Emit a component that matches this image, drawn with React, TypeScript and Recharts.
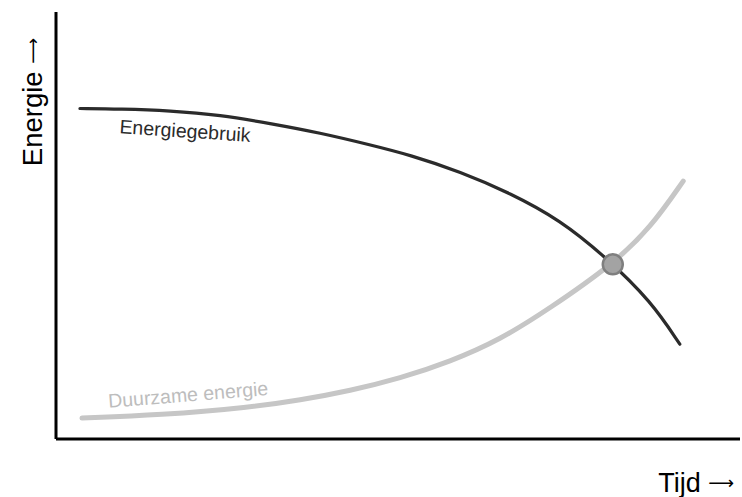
import {
  ComposedChart,
  Line,
  Scatter,
  XAxis,
  YAxis,
  Label,
  ReferenceDot,
} from 'recharts'

// tijd (0-100) en energie (0-100)
const gebruikTijd = [3.5, 9.4, 16.7, 24, 31.3, 38.6, 45.9, 51.8, 59.1, 66.4, 73.7, 80.3, 87, 91.2]
const gebruikEnergie = [77.4, 77.3, 76.9, 75.9, 73.9, 71.7, 68.9, 66.5, 62.6, 57.6, 51.3, 42.7, 32.3, 22.2]

const duurzaamTijd = [3.8, 15.2, 28.4, 35.7, 43, 50.3, 57.6, 64.9, 72.2, 81.4, 87, 91.7]
const duurzaamEnergie = [4.9, 5.6, 7.4, 9.1, 11.3, 14.2, 18.1, 23.2, 30.6, 40.9, 49.6, 60.4]

const snijpunt = [{ t: 81.4, e: 40.9 }]

const gebruikData = gebruikTijd.map((t, i) => ({ t, e: gebruikEnergie[i] }))
const duurzaamData = duurzaamTijd.map((t, i) => ({ t, e: duurzaamEnergie[i] }))

const font = '"Liberation Sans", Arial, sans-serif'
const narrow = '"Liberation Sans Narrow", "Liberation Sans", Arial, sans-serif'
const pijlFont = '"DejaVu Sans", sans-serif'

function SchuineTekst(tekst: string, hoek: number, kleur: string) {
  return (p: any) => (
    <text
      x={p.cx}
      y={p.cy}
      textAnchor="middle"
      fontFamily={font}
      fontSize={19.5}
      fill={kleur}
      transform={`rotate(${hoek}, ${p.cx}, ${p.cy})`}
    >
      {tekst}
    </text>
  )
}

export default function App() {
  return (
    <div style={{ position: 'absolute', left: 0, top: 0, background: '#fff' }}>
      <ComposedChart
        width={742}
        height={497}
        margin={{ top: 12, right: 2, bottom: 57, left: 55 }}
      >
        <XAxis
          type="number"
          dataKey="t"
          domain={[0, 100]}
          height={1}
          tick={false}
          tickLine={false}
          axisLine={{ stroke: '#000', strokeWidth: 3 }}
          allowDataOverflow
        >
          <Label
            content={({ viewBox }: any) => (
              <text
                x={viewBox.x + viewBox.width - 6}
                y={viewBox.y + 53}
                textAnchor="end"
                fontFamily={narrow}
                fontSize={27}
                fill="#000"
              >
                Tijd <tspan fontFamily={pijlFont} fontSize={18} dy={-3}>⟶</tspan>
              </text>
            )}
          />
        </XAxis>
        <YAxis
          type="number"
          dataKey="e"
          domain={[0, 100]}
          width={1}
          tick={false}
          tickLine={false}
          axisLine={{ stroke: '#000', strokeWidth: 3 }}
          allowDataOverflow
        >
          <Label
            content={({ viewBox }: any) => {
              const x = viewBox.x + viewBox.width - 14.5
              const y = viewBox.y + 90
              return (
                <text
                  x={x}
                  y={y}
                  textAnchor="middle"
                  fontFamily={narrow}
                  fontSize={27.5}
                  fill="#000"
                  transform={`rotate(-90, ${x}, ${y})`}
                >
                  Energie <tspan fontFamily={pijlFont} fontSize={18} dy={-3}>⟶</tspan>
                </text>
              )
            }}
          />
        </YAxis>
        <Line
          data={duurzaamData}
          dataKey="e"
          type="basis"
          stroke="#c6c6c6"
          strokeWidth={5}
          strokeLinecap="round"
          dot={false}
          isAnimationActive={false}
        />
        <Line
          data={gebruikData}
          dataKey="e"
          type="basis"
          stroke="#2b2b2b"
          strokeWidth={3.2}
          strokeLinecap="round"
          dot={false}
          isAnimationActive={false}
        />
        <ReferenceDot
          x={18.8}
          y={70.6}
          r={0}
          shape={SchuineTekst('Energiegebruik', 3.8, '#2b2b2b')}
        />
        <ReferenceDot
          x={19.4}
          y={8.8}
          r={0}
          shape={SchuineTekst('Duurzame energie', -4.6, '#bdbdbd')}
        />
        <Scatter
          data={snijpunt}
          dataKey="e"
          fill="#a3a3a3"
          shape={(p: any) => (
            <circle cx={p.cx} cy={p.cy} r={10} fill="#a3a3a3" stroke="#7f7f7f" strokeWidth={2.5} />
          )}
          isAnimationActive={false}
        />
      </ComposedChart>
    </div>
  )
}
